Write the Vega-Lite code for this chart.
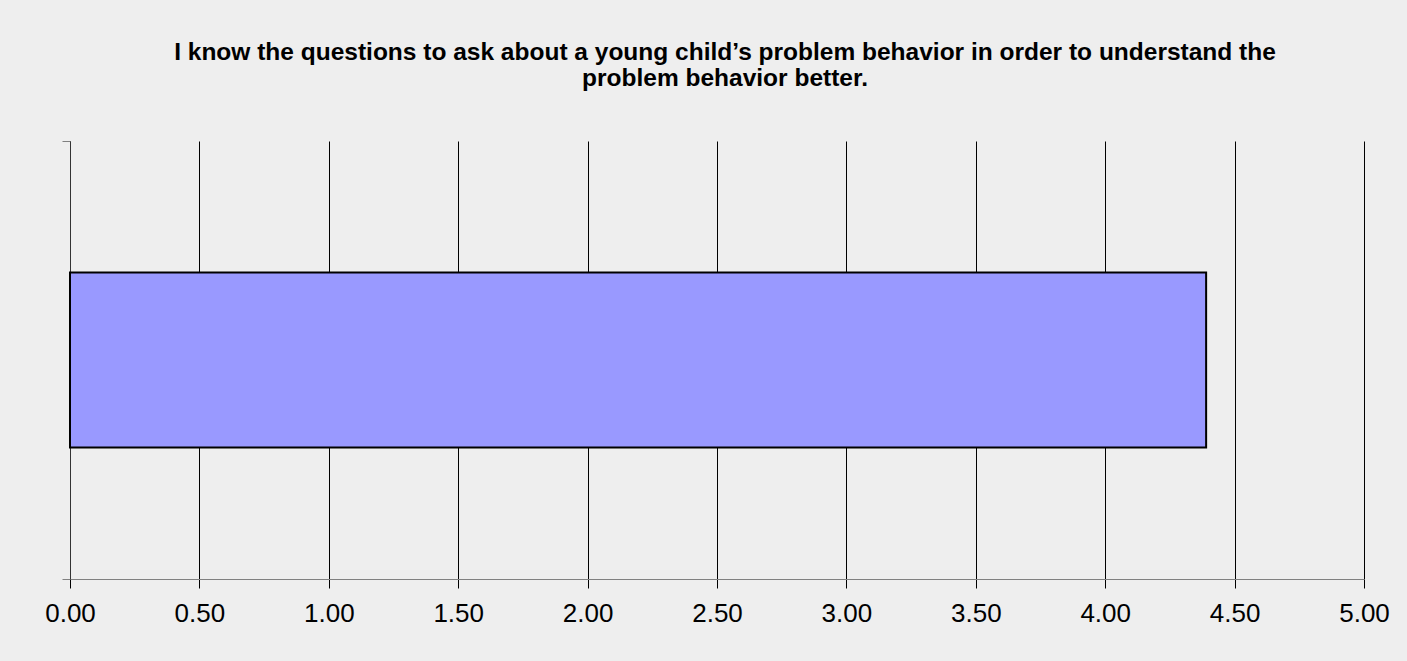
{
  "$schema": "https://vega.github.io/schema/vega-lite/v6.json",
  "width": 1294,
  "height": 438,
  "autosize": {"type": "none"},
  "padding": {"left": 70, "top": 141, "right": 43, "bottom": 82},
  "background": "#eeeeee",
  "title": {
    "text": ["I know the questions to ask about a young child’s problem behavior in order to understand the", "problem behavior better."],
    "font": "Liberation Sans",
    "fontSize": 24.5,
    "fontWeight": "bold",
    "color": "black",
    "anchor": "middle",
    "frame": "group",
    "dx": 8,
    "offset": 49,
    "lineHeight": 26
  },
  "data": {"values": [{"question": "I know the questions to ask about a young child’s problem behavior in order to understand the problem behavior better.", "mean": 4.39}]},
  "mark": {"type": "bar", "fill": "#9999ff", "stroke": "black", "strokeWidth": 2, "height": {"band": 0.4}},
  "encoding": {
    "x": {
      "field": "mean",
      "type": "quantitative",
      "scale": {"domain": [0, 5]},
      "axis": {
        "values": [0, 0.5, 1, 1.5, 2, 2.5, 3, 3.5, 4, 4.5, 5],
        "format": ".2f",
        "title": null,
        "grid": true,
        "gridColor": "black",
        "gridOpacity": 1,
        "tickColor": "black",
        "tickSize": 9,
        "domainColor": "#808080",
        "labelFontSize": 26,
        "labelFont": "Liberation Sans",
        "labelColor": "black",
        "labelPadding": 12,
        "labelFlush": false,
        "labelOverlap": false
      }
    },
    "y": {
      "field": "question",
      "type": "nominal",
      "scale": {"paddingInner": 0, "paddingOuter": 0},
      "axis": {
        "title": null,
        "labels": false,
        "tickBand": "extent",
        "tickSize": 8,
        "tickColor": "#808080",
        "domainColor": "#333333",
        "grid": false
      }
    }
  },
  "config": {"view": {"stroke": null}}
}
